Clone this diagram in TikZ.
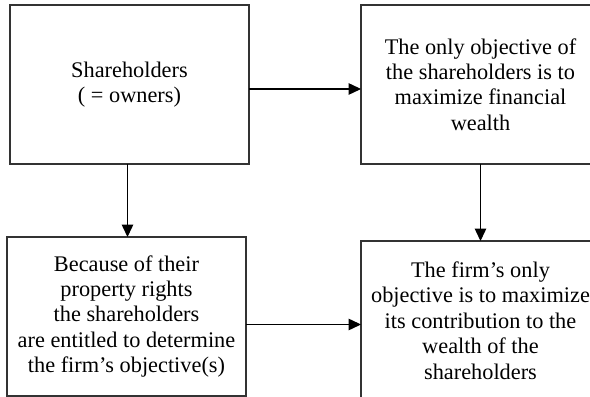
\documentclass[tikz,border=0pt]{standalone}
\usepackage{fontspec}
\setmainfont{Liberation Serif}
\usetikzlibrary{arrows.meta}
\begin{document}
\begin{tikzpicture}[inner sep=0pt,outer sep=0pt,line width=0.6pt,
>={Triangle[length=7pt,width=6.5pt]},
infobox/.style={draw=black!80,rectangle,line width=0.75pt,minimum width=4.78cm,minimum height=3.18cm,align=center,font=\fontsize{12.7}{14.5}\selectfont}]
\clip (0,0) rectangle (11.8,7.94);
\draw (2.59,6.25) node[infobox] (shr) {Shareholders\\( = owners)};
\draw (9.61,6.25) node[infobox] (goal) {The only objective of\\the shareholders is to\\maximize financial\\wealth};
\draw (2.53,1.61) node[infobox] (prop) {Because of their\\property rights\\the shareholders\\are entitled to determine\\the firm's objective(s)};
\draw (9.61,1.53) node[infobox] (firm) {The firm's only\\objective is to maximize\\its contribution to the\\wealth of the\\shareholders};

\draw[->] ([yshift=-0.09cm]shr.east) -- ([yshift=-0.09cm]shr.east -| goal.west);
\draw[->] ([xshift=-0.04cm]shr.south) -- ([xshift=-0.04cm]shr.south |- prop.north);
\draw[->] (goal.south) -- (goal.south |- firm.north);
\draw[->] ([yshift=-0.16cm]prop.east) -- ([yshift=-0.16cm]prop.east -| firm.west);
\end{tikzpicture}
\end{document}
